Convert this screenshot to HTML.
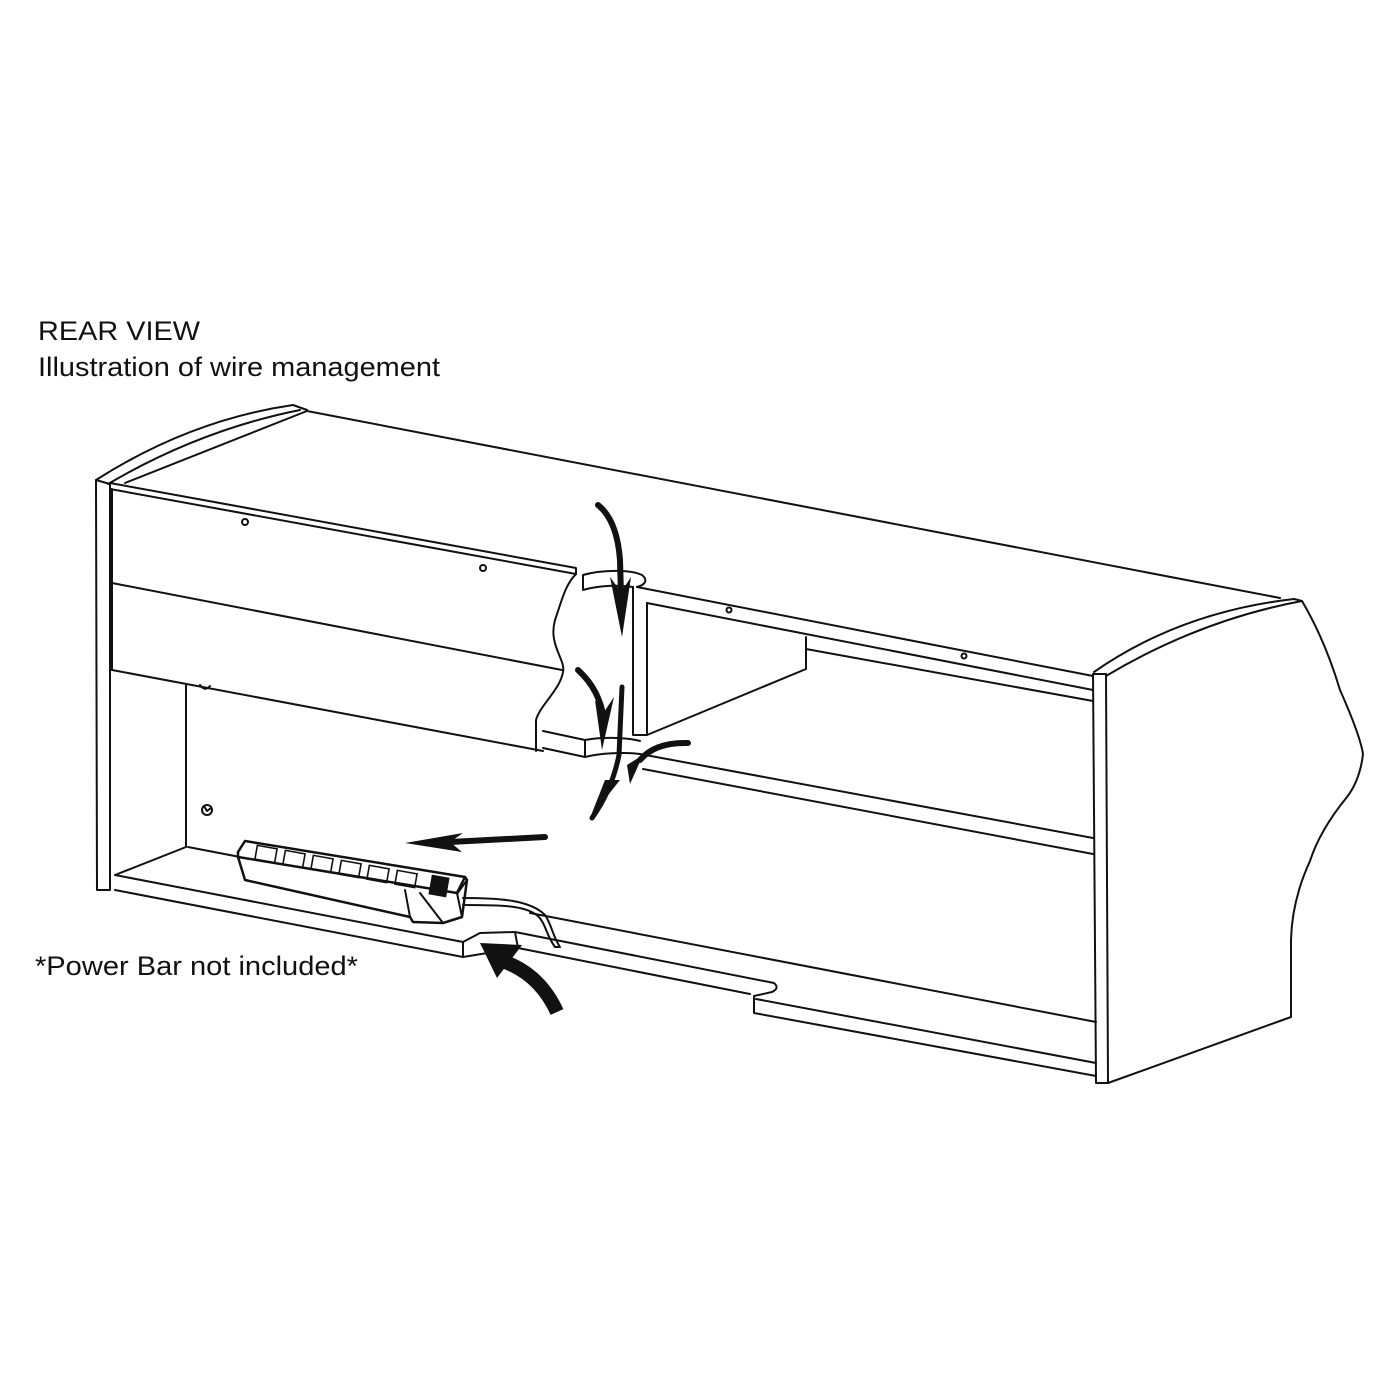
<!DOCTYPE html>
<html><head><meta charset="utf-8"><style>
html,body{margin:0;padding:0;background:#fff;}
svg{display:block}
text{font-family:"Liberation Sans",sans-serif;fill:#111}
</style></head><body>
<svg width="1400" height="1400" viewBox="0 0 1400 1400" xmlns="http://www.w3.org/2000/svg">
<rect width="1400" height="1400" fill="#fff"/>
<text x="38" y="340" font-size="27" textLength="162" lengthAdjust="spacingAndGlyphs">REAR VIEW</text>
<text x="38" y="376" font-size="27" textLength="402" lengthAdjust="spacingAndGlyphs">Illustration of wire management</text>
<text x="35" y="975" font-size="27" textLength="323" lengthAdjust="spacingAndGlyphs">*Power Bar not included*</text>

<g fill="none" stroke="#111" stroke-width="2" stroke-linejoin="round" stroke-linecap="round">
<path d="M96 480 Q190 420 293 405 L307 410"/>
<path d="M108 484 Q200 430 300 410"/>
<path d="M125 483 L307 411"/>
<path d="M307 411 L1280 598"/>
<path d="M96 480 L97 890 L110 890 L110 484 L96 480"/>
<path d="M110 483 L576 568 L576 574"/>
<path d="M110 489 L576 574"/>
<path d="M112 583 L562 670"/>
<path d="M112 670 L543 751"/>
<path d="M112 489 L112 670"/>
<path d="M576 574 C565 585 562 600 555 620 C548 645 566 660 563 672 C560 690 540 705 536 720 L536 751"/>
<path d="M583 575 L583 590 C600 585 620 585 633 587"/>
<path d="M583 575 C600 570 630 569 642 575 C648 580 645 584 640 586 L637 587"/>
<path d="M637 587 L1093 676"/>
<path d="M647 603 L1093 690"/>
<circle cx="245" cy="522" r="3"/>
<circle cx="483" cy="568" r="3"/>
<circle cx="729" cy="610" r="2.5"/>
<circle cx="964" cy="656" r="2.5"/>
<path d="M633 587 L633 735 L647 735 L647 603"/>
<path d="M647 735 L806 669 L806 637"/>
<path d="M806 649 L1093 701"/>
<path d="M543 731 L585 740 L585 757 L543 748"/>
<path d="M585 740 C600 737 625 737 640 741"/>
<path d="M585 757 C600 753 625 752 640 754"/>
<path d="M640 754 L1093 838"/>
<path d="M643 769 L1093 854"/>
<path d="M186 685 L186 847 L115 875"/>
<circle cx="207" cy="810" r="5"/>
<path d="M204 806 L207 811 L211 808"/>
<path d="M200 685 Q205 692 210 686"/>
<path d="M188 847 L240 857"/>
<path d="M530 913 L1096 1022"/>
<path d="M115 875 L463 942 L463 957 L115 890"/>
<path d="M463 942 L480 933 L515 932 L518 948 L463 957"/>
<path d="M515 932 L774 983 Q780 988 772 992 L754 996 L754 1013 L1096 1076"/>
<path d="M518 948 L750 994"/>
<path d="M756 999 L1096 1063"/>
<path d="M1093 674 L1096 1083 L1108 1083 L1106 674 Z"/>
<path d="M1094 672 Q1180 612 1294 599"/>
<path d="M1106 676 Q1200 620 1302 601"/>
<path d="M1294 599 L1302 601 Q1325 640 1340 690 Q1360 735 1363 754 Q1360 780 1347 797 Q1320 830 1310 861 Q1292 900 1291 940 L1291 1017 L1108 1083"/>
<path d="M238 852 L245 841 L465 877 L457 893 L238 857 Z" fill="#fff" stroke-width="2.5"/>
<path d="M238 857 L245 880 L410 917 L413 922 L443 923 L462 917 L467 880 L465 877" stroke-width="2.5"/>
<path d="M405 890 L410 917"/>
<path d="M420 893 L443 923"/>
<path d="M457 893 L462 917"/>
<path d="M457 894 L467 880"/>
<path d="M463 898 C500 898 530 900 545 915 C552 925 552 935 560 947 L555 947 C546 935 546 924 538 916 C525 905 500 905 463 905"/>
</g>
<g fill="none" stroke="#111" stroke-width="1.6">
<rect x="256" y="847" width="20" height="14" transform="rotate(10 266 854)"/>
<rect x="284" y="852" width="20" height="14" transform="rotate(10 294 859)"/>
<rect x="312" y="857" width="20" height="14" transform="rotate(10 322 864)"/>
<rect x="340" y="862" width="20" height="14" transform="rotate(10 350 869)"/>
<rect x="368" y="867" width="20" height="14" transform="rotate(10 378 874)"/>
<rect x="396" y="872" width="20" height="14" transform="rotate(10 406 879)"/>
</g>
<rect x="430" y="876" width="18" height="20" fill="#111" transform="rotate(10 439 886)"/>

<g fill="none" stroke="#111" stroke-linecap="round">
<path d="M598 505 Q617 520 620 560 L621 595" stroke-width="6"/>
<path d="M578 670 Q600 690 604 720" stroke-width="6"/>
<path d="M622 687 L619 755 Q612 790 592 818" stroke-width="5"/>
<path d="M688 743 Q655 742 640 760" stroke-width="6"/>
<path d="M545 837 L450 842" stroke-width="6"/>
<path d="M557 1012 Q540 975 505 962" stroke-width="14" stroke-linecap="butt"/>
</g>
<g fill="#111">
<polygon points="610,577 622,637 631,577 621,592"/>
<polygon points="595,700 602,750 614,697 604,712"/>
<polygon points="605,780 590,818 620,780"/>
<polygon points="627,765 630,784 643,755"/>
<polygon points="463,833 405,843 462,852 450,842"/>
<polygon points="480,943 522,945 497,978"/>
</g>
</svg>
</body></html>
